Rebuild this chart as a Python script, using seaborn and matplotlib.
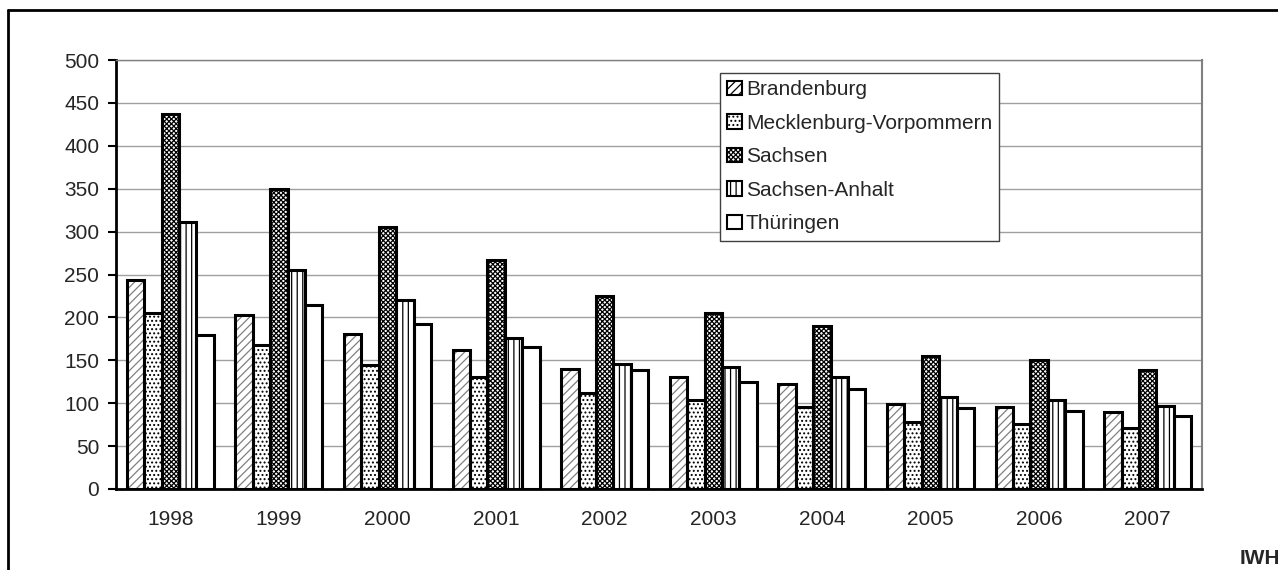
import matplotlib
matplotlib.use("Agg")
import matplotlib.pyplot as plt
from matplotlib.patches import Patch, Rectangle
from matplotlib.lines import Line2D
import seaborn as sns
import pandas as pd
import numpy as np

years = ["1998", "1999", "2000", "2001", "2002", "2003", "2004", "2005", "2006", "2007"]
states = ["Brandenburg", "Mecklenburg-Vorpommern", "Sachsen", "Sachsen-Anhalt", "Thüringen"]
brandenburg = [244, 203, 181, 162, 140, 131, 122, 99, 96, 90]
mecklenburg = [205, 168, 145, 130, 112, 104, 96, 78, 76, 71]
sachsen = [437, 350, 305, 267, 225, 205, 190, 155, 150, 139]
sachsen_anhalt = [311, 255, 220, 176, 146, 142, 131, 107, 104, 97]
thueringen = [179, 215, 192, 166, 139, 125, 116, 94, 91, 85]
yticks = [0, 50, 100, 150, 200, 250, 300, 350, 400, 450, 500]

series = [brandenburg, mecklenburg, sachsen, sachsen_anhalt, thueringen]
rows = []
for s, vals in zip(states, series):
    for y, v in zip(years, vals):
        rows.append({"Jahr": y, "Land": s, "Wert": v})
df = pd.DataFrame(rows)

sns.set_style("white")
plt.rcParams["font.family"] = ["Liberation Sans", "DejaVu Sans"]
plt.rcParams["hatch.linewidth"] = 0.9

FS = 15

fig = plt.figure(figsize=(12.78, 5.70), dpi=100)
ax = fig.add_axes([116 / 1278, 1 - 489 / 570, (1202 - 116) / 1278, (489 - 60) / 570])

sns.barplot(data=df, x="Jahr", y="Wert", hue="Land", order=years, hue_order=states,
            palette=["white"] * 5, saturation=1, edgecolor="black", linewidth=2,
            width=0.8, legend=False, ax=ax, zorder=2)

hatches = ["////", "....", "xxxxxxx", "|||", ""]
hcolors = ["#808080", "black", "black", "black", "black"]
for i, cont in enumerate(ax.containers):
    for p in cont.patches:
        p.set_hatch(hatches[i])
        p.set_edgecolor(hcolors[i])
        p.set_linewidth(0)
        r = Rectangle(p.get_xy(), p.get_width(), p.get_height(), fill=False,
                      edgecolor="black", linewidth=2.2, zorder=3)
        ax.add_patch(r)

ax.set_ylim(0, 500)
ax.set_xlim(-0.5, 9.5)
ax.set_yticks(yticks)
ax.set_yticklabels([str(t) for t in yticks], fontsize=FS)
ax.set_xticks(range(len(years)))
ax.set_xticklabels(years, fontsize=FS)
ax.set_xticks(np.arange(-0.5, 10, 1), minor=True)
ax.tick_params(axis="x", which="major", length=0, pad=15)
ax.tick_params(axis="x", which="minor", length=6, width=1.5, color="black", direction="out")
ax.tick_params(axis="y", length=6, width=1.5, color="black", direction="out", pad=6, left=True)
ax.set_xlabel("")
ax.set_ylabel("")
ax.yaxis.grid(True, color="#a0a0a0", linewidth=1, zorder=0)
ax.set_axisbelow(True)
for side in ["left", "bottom"]:
    ax.spines[side].set_color("black")
    ax.spines[side].set_linewidth(2)
ax.spines["top"].set_color("#808080")
ax.spines["top"].set_linewidth(1)
ax.spines["right"].set_color("#808080")
ax.spines["right"].set_linewidth(1.5)

handles = []
for i, s in enumerate(states):
    handles.append(Patch(facecolor="white", edgecolor=hcolors[i], hatch=hatches[i], linewidth=0))
leg = ax.legend(handles, states, loc="upper left", bbox_to_anchor=(0.556, 0.97),
                fontsize=FS, frameon=True, fancybox=False, framealpha=1,
                edgecolor="#404040", handlelength=0.7, handleheight=0.7,
                handletextpad=0.2, labelspacing=0.7, borderpad=0.35, borderaxespad=0)
leg.get_frame().set_linewidth(1)
for h in leg.legend_handles:
    h.set_edgecolor("black")
    h.set_linewidth(1.5)

fig.add_artist(Line2D([8 / 1278, 8 / 1278], [0, 1 - 10 / 570], color="black", linewidth=2,
                      transform=fig.transFigure))
fig.add_artist(Line2D([8 / 1278, 1], [1 - 10 / 570, 1 - 10 / 570], color="black", linewidth=2,
                      transform=fig.transFigure))
fig.text(1240 / 1278, 1 - 558 / 570, "IWH", fontsize=FS, fontweight="bold", va="center", ha="left")

fig.savefig("out.png", dpi=100)
